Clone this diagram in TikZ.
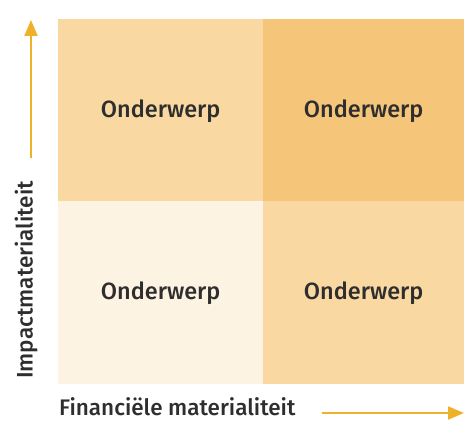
\documentclass[tikz,border=0pt]{standalone}
\usepackage{fontspec}
\setmainfont{Fira Sans}[UprightFont={* Medium}]
\usetikzlibrary{arrows.meta}
\definecolor{qlight}{HTML}{FDF3E2}
\definecolor{qmid}{HTML}{F9D8A2}
\definecolor{qdark}{HTML}{F5C679}
\definecolor{arrowc}{HTML}{EFB02A}
\definecolor{txt}{HTML}{2E2E2E}
\tikzset{
  quad/.style={draw=none, minimum height=183pt, inner sep=0pt, anchor=north west, font=\fontsize{23.5}{26}\selectfont, text=txt},
  axarrow/.style={draw=arrowc, line width=2pt, -{Triangle[length=16pt,width=13pt]}},
  axlabel/.style={font=\fontsize{22.5}{25}\selectfont, text=txt, inner sep=0pt}
}
\begin{document}
\begin{tikzpicture}[x=1pt,y=1pt]
\useasboundingbox (0,0) rectangle (464,422);
\node[quad, fill=qmid, minimum width=205pt] (tl) at (58,403) {Onderwerp};
\node[quad, fill=qdark, minimum width=201pt] (tr) at (263,403) {Onderwerp};
\node[quad, fill=qlight, minimum width=205pt] (bl) at (58,221) {Onderwerp};
\node[quad, fill=qmid, minimum width=201pt] (br) at (263,221) {Onderwerp};
\coordinate (vs) at (31,264);
\coordinate (ve) at (31,402);
\draw[axarrow] (vs) -- (ve);
\coordinate (hs) at (322,9);
\coordinate (he) at (464,9);
\draw[axarrow] (hs) -- (he);
\node[axlabel, rotate=90] (ylab) at (26,142) {Impactmaterialiteit};
\node[axlabel, anchor=base west] (xlab) at (59,6) {Financiële materialiteit};
\end{tikzpicture}
\end{document}
